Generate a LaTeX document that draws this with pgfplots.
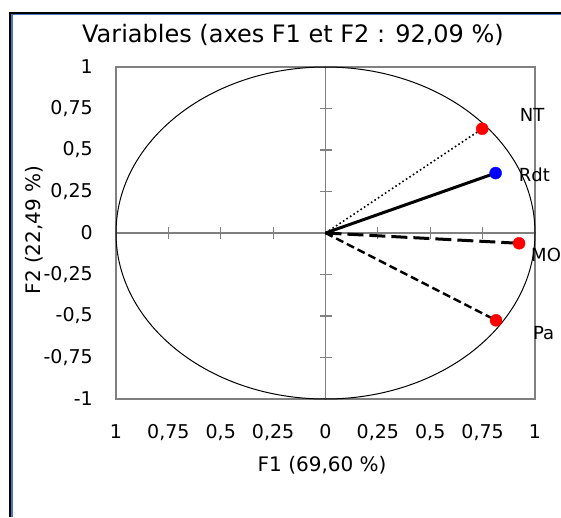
\documentclass[border=0pt]{standalone}
\usepackage{fontspec}
\setmainfont{DejaVu Sans}
\usepackage{pgfplots}
\pgfplotsset{compat=1.18}
\definecolor{winblue}{RGB}{70,120,190}
\definecolor{framegray}{RGB}{128,128,128}
\begin{document}
\begin{tikzpicture}[x=1pt,y=1pt]
\useasboundingbox (0,0) rectangle (561,517);
% window frame
\fill[black] (9,0) rectangle (11,505);
\fill[black] (9,503) rectangle (561,505);
\fill[winblue] (11,0) rectangle (13,503);
\fill[winblue] (11,501.5) rectangle (561,503);
% title
\node[font=\fontsize{24}{27}\selectfont] at (293,482) {Variables (axes F1 et F2 : 92,09 \%)};
% frame axis with labels
\begin{axis}[
  at={(116pt,118pt)}, anchor=south west, scale only axis,
  width=419pt, height=332pt,
  xmin=-1, xmax=1, ymin=-1, ymax=1,
  axis line style={framegray, line width=1.2pt},
  xtick={-1,-0.75,-0.5,-0.25,0,0.25,0.5,0.75,1},
  ytick={-1,-0.75,-0.5,-0.25,0,0.25,0.5,0.75,1},
  xticklabels={1,{0,75},{0,5},{0,25},0,{0,25},{0,5},{0,75},1},
  yticklabels={-1,{-0,75},{-0,5},{-0,25},0,{0,25},{0,5},{0,75},1},
  major tick length=0pt, tick style={draw=none},
  tick label style={font=\fontsize{19}{22}\selectfont, inner sep=0pt},
  yticklabel style={anchor=east, xshift=-23pt},
  xticklabel style={anchor=north, yshift=-25pt},
  xlabel={F1 (69,60 \%)}, ylabel={F2 (22,49 \%)},
  label style={font=\fontsize{20}{23}\selectfont},
  xlabel style={at={(axis description cs:0.492,-0.199)}, anchor=center},
  ylabel style={at={(axis description cs:-0.196,0.509)}, anchor=center},
]
\end{axis}
% central axes and data
\begin{axis}[
  at={(116pt,118pt)}, anchor=south west, scale only axis,
  width=419pt, height=332pt,
  xmin=-1, xmax=1, ymin=-1, ymax=1,
  axis lines=middle,
  axis line style={framegray, line width=1.5pt, -},
  xtick={-0.75,-0.5,-0.25,0.25,0.5,0.75},
  ytick={-0.75,-0.5,-0.25,0.25,0.5,0.75},
  xticklabels={}, yticklabels={},
  tick align=center, major tick length=12pt,
  tick style={framegray, line width=1.2pt},
  clip=false,
  every node near coord/.append style={black, anchor=center, font=\fontsize{18}{21}\selectfont},
]
\draw[black, line width=1pt] (axis cs:0,0) ellipse [x radius=1, y radius=1];
\addplot[black, line width=1.6pt, dash pattern=on 1.6pt off 2.6pt] coordinates {(0,0) (0.748,0.628)};
\addplot[black, line width=3pt] coordinates {(0,0) (0.812,0.361)};
\addplot[black, line width=3pt, dash pattern=on 16pt off 6pt] coordinates {(0,0) (0.924,-0.062)};
\addplot[black, line width=2.4pt, dash pattern=on 8pt off 4pt] coordinates {(0,0) (0.814,-0.526)};
\addplot[only marks, mark=*, mark size=6pt, mark options={draw=red, fill=red},
  nodes near coords={NT}, every node near coord/.append style={xshift=50pt, yshift=13.7pt}]
  coordinates {(0.748,0.628)};
\addplot[only marks, mark=*, mark size=6pt, mark options={draw=blue, fill=blue},
  nodes near coords={Rdt}, every node near coord/.append style={xshift=38.8pt, yshift=-2pt}]
  coordinates {(0.812,0.361)};
\addplot[only marks, mark=*, mark size=6pt, mark options={draw=red, fill=red},
  nodes near coords={MO}, every node near coord/.append style={xshift=27pt, yshift=-11.7pt}]
  coordinates {(0.924,-0.062)};
\addplot[only marks, mark=*, mark size=6pt, mark options={draw=red, fill=red},
  nodes near coords={Pa}, every node near coord/.append style={xshift=47.5pt, yshift=-13.2pt}]
  coordinates {(0.814,-0.526)};
\end{axis}
\end{tikzpicture}
\end{document}
